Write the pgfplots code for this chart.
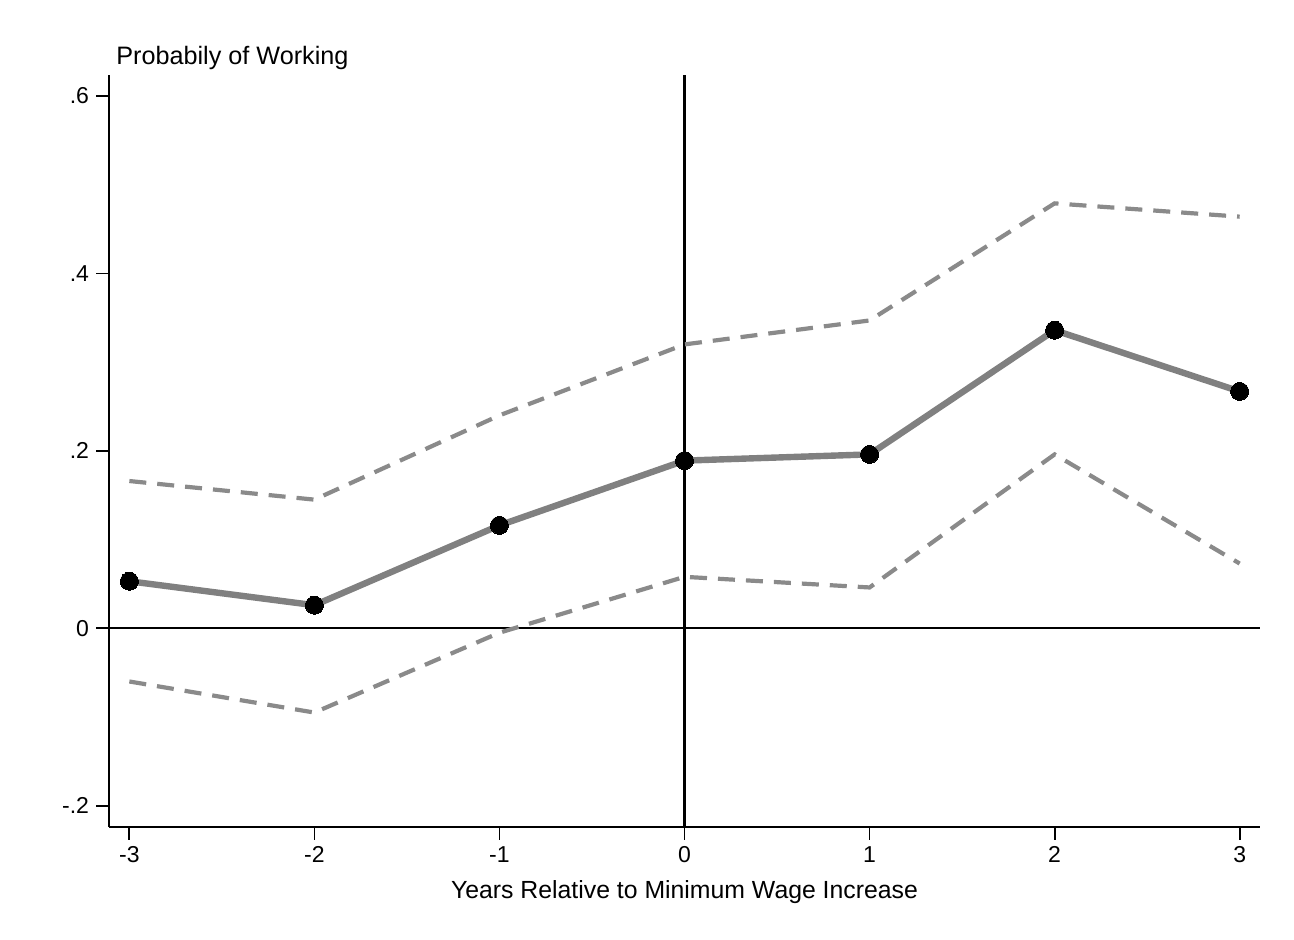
\documentclass[border=0pt]{standalone}
\usepackage{fontspec}
\setmainfont{Liberation Sans}
\usepackage{pgfplots}
\pgfplotsset{compat=1.18}
\definecolor{lgray}{HTML}{808080}
\definecolor{dgray}{HTML}{8A8A8A}
\begin{document}
\begin{tikzpicture}
\begin{axis}[
  at={(0,0)}, anchor=south west,
  scale only axis, width=575.5pt, height=375.85pt,
  xmin=-3.11, xmax=3.11, ymin=-0.2237, ymax=0.6237,
  axis x line*=bottom, axis y line*=left,
  axis line style={black, line width=0.9pt, -},
  xtick={-3,-2,-1,0,1,2,3}, xticklabels={-3,-2,-1,0,1,2,3},
  ytick={-0.2,0,0.2,0.4,0.6}, yticklabels={-.2,0,.2,.4,.6},
  tick style={black, line width=0.9pt},
  tick align=outside, major tick length=6.5pt,
  tick label style={font=\fontsize{11.5}{13}\selectfont},
  xlabel={Years Relative to Minimum Wage Increase},
  xlabel style={font=\fontsize{12.4}{14}\selectfont, yshift=-2pt},
  clip=false,
]
\addplot[black, line width=1pt] coordinates {(-3.11,0) (3.11,0)};
\addplot[black, line width=1.1pt] coordinates {(0,-0.2237) (0,0.6237)};
\addplot[dgray, line width=2.1pt, dash pattern=on 8.5pt off 5.5pt] coordinates {(-3,0.166)(-2,0.145)(-1,0.240)(0,0.320)(1,0.347)(2,0.479)(3,0.464)};
\addplot[dgray, line width=2.1pt, dash pattern=on 8.5pt off 5.5pt] coordinates {(-3,-0.060)(-2,-0.095)(-1,-0.005)(0,0.058)(1,0.046)(2,0.196)(3,0.073)};
\addplot[lgray, line width=3.2pt, mark=*, mark size=4.5pt, mark options={fill=black, draw=black, line width=0pt}] coordinates {(-3,0.053)(-2,0.026)(-1,0.116)(0,0.189)(1,0.196)(2,0.336)(3,0.267)};
\end{axis}
\node[anchor=base west, inner sep=0pt, font=\fontsize{12.6}{14}\selectfont] at (3.5pt,381.2pt) {Probabily of Working};
\pgfresetboundingbox
\path[use as bounding box] (-54.5pt,-56.15pt) rectangle (592.5pt,413.35pt);
\end{tikzpicture}
\end{document}
